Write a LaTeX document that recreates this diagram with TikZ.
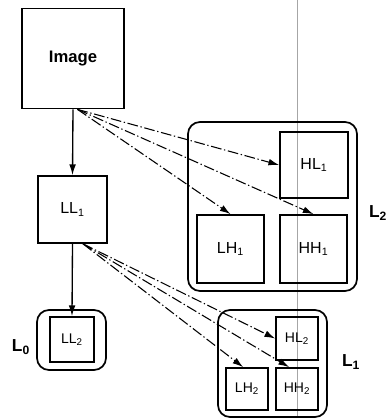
\documentclass[tikz,border=0pt]{standalone}
\usepackage{fontspec}
\setmainfont{Liberation Sans}
\usetikzlibrary{arrows.meta}

\begin{document}
\begin{tikzpicture}[x=0.75pt, y=-0.75pt,
    box/.style 2 args={draw, line width=1.3pt, inner sep=0pt,
        minimum width=#1*0.75pt, minimum height=#2*0.75pt, font=\fontsize{12}{14}\selectfont},
    level/.style 2 args={draw, line width=1.3pt, rounded corners=9pt, inner sep=0pt,
        minimum width=#1*0.75pt, minimum height=#2*0.75pt},
    lvlname/.style={font=\bfseries\fontsize{13}{15}\selectfont},
    down/.style={line width=1pt, -{Latex[length=8pt, width=5pt]}},
    band/.style={line width=0.8pt, dash pattern=on 8pt off 2pt on 1pt off 2pt,
        -{Latex[length=8pt, width=5pt]}}]
    \useasboundingbox (0, 0) rectangle (388, 418);

    % Scan line
    \draw[line width=0.3pt, gray!70] (296.7, 0) -- (296.7, 418);

    % Left column
    \node[box={102}{100}, font=\bfseries\fontsize{12.5}{14}\selectfont] (img) at (73, 58.5) {Image};
    \node[box={69}{67}] (ll1) at (72.5, 209.5) {LL\textsubscript{1}};
    \node[level={69}{60}] (lvl0) at (71.5, 340) {};
    \node[box={44}{45}, font=\fontsize{10.5}{12}\selectfont] (ll2) at (72, 339.5) {LL\textsubscript{2}};
    \node[lvlname] (L0) at (21, 347) {L\textsubscript{0}};

    % First level details
    \node[level={169}{169}] (lvl2) at (272.5, 206.5) {};
    \node[box={68}{66}] (hl1) at (314, 165) {HL\textsubscript{1}};
    \node[box={67}{68}] (lh1) at (230.5, 249) {LH\textsubscript{1}};
    \node[box={67}{68}] (hh1) at (313.5, 249) {HH\textsubscript{1}};
    \node[lvlname] (L2) at (378, 213) {L\textsubscript{2}};

    % Second level details
    \node[level={109}{107}] (lvl1) at (272.5, 363.5) {};
    \node[box={42}{43}, font=\fontsize{10.5}{12}\selectfont] (hl2) at (297, 338.5) {HL\textsubscript{2}};
    \node[box={42}{42}, font=\fontsize{10.5}{12}\selectfont] (lh2) at (247, 389) {LH\textsubscript{2}};
    \node[box={42}{42}, font=\fontsize{10.5}{12}\selectfont] (hh2) at (297, 389) {HH\textsubscript{2}};
    \node[lvlname] (L1) at (351, 362) {L\textsubscript{1}};

    % Low pass chain
    \draw[down] (img.south) -- (ll1.north);
    \draw[down] (ll1.south) -- (ll2.north);

    % High pass bands
    \draw[band] (img.-85) -- (hl1.west);
    \draw[band] (img.-85) -- (hh1.north);
    \draw[band] (img.-85) -- (lh1.north);
    \draw[band] (ll1.-73) -- (hl2.west);
    \draw[band] (ll1.-73) -- (hh2.110);
    \draw[band] (ll1.-73) -- (lh2.100);
\end{tikzpicture}
\end{document}
